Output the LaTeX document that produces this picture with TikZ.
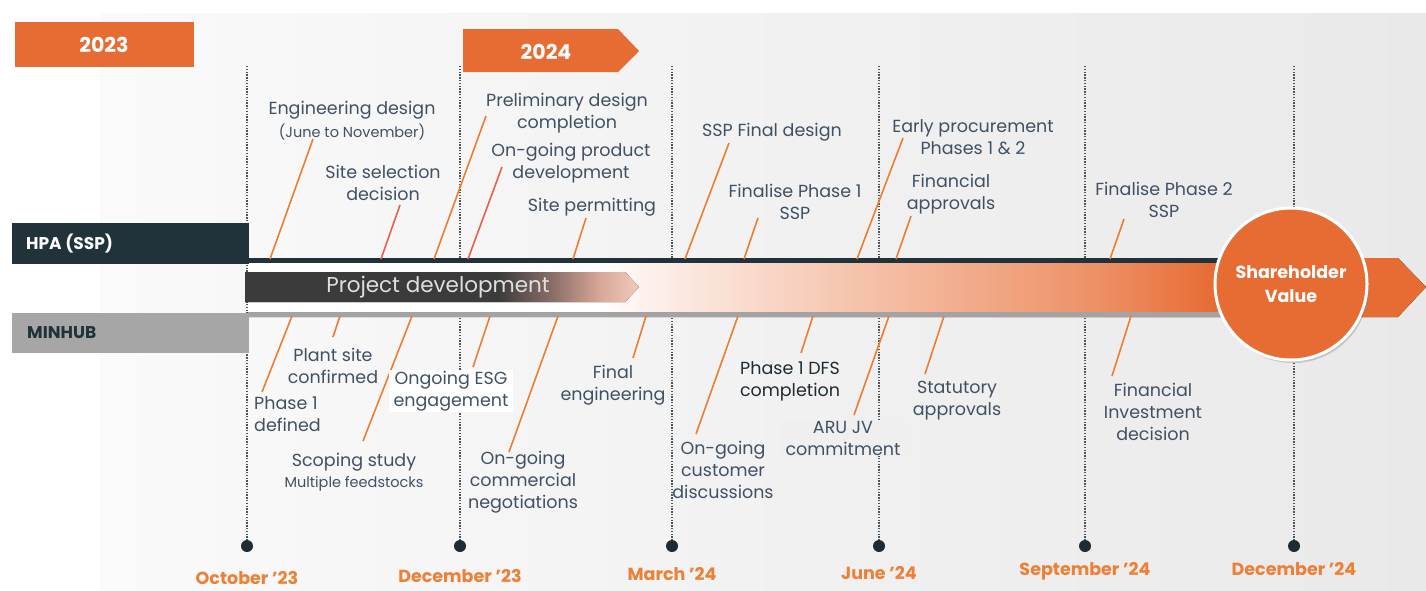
\documentclass[tikz,border=0pt]{standalone}
\usepackage{fontspec}
\setmainfont{Poppins}
\usetikzlibrary{calc}
\usetikzlibrary{positioning}
\usetikzlibrary{shadows}
\definecolor{MainOrange}{HTML}{E76C33}
\definecolor{LeadOrange}{HTML}{EE7D31}
\definecolor{LeadRed}{HTML}{E8604C}
\definecolor{DateOrange}{HTML}{EE7F36}
\definecolor{DarkSlate}{HTML}{22323A}
\definecolor{BarGray}{HTML}{A6A6A6}
\definecolor{LineGray}{HTML}{A3A3A3}
\definecolor{LabelText}{HTML}{405163}
\definecolor{DarkArrow}{HTML}{3B3B3B}
\definecolor{DotDark}{HTML}{1E2B33}
\definecolor{BgLeft}{HTML}{FAFAFA}
\definecolor{BgRight}{HTML}{E9E9E9}
\definecolor{BoxGray}{HTML}{EFEFEF}
\definecolor{DevMid}{HTML}{8A6E68}
\definecolor{DevPink}{HTML}{D8A797}
\definecolor{DevPale}{HTML}{F2CBBD}
\pgfdeclarehorizontalshading{bandshade}{100bp}{color(0bp)=(white); color(25bp)=(white);
  color(40bp)=(white); color(42bp)=(MainOrange!10!white); color(50bp)=(MainOrange!38!white);
  color(61bp)=(MainOrange!75!white); color(66bp)=(MainOrange); color(100bp)=(MainOrange)}
\pgfdeclarehorizontalshading{devshade}{100bp}{color(0bp)=(DarkArrow); color(57bp)=(DarkArrow);
  color(64bp)=(DevMid); color(70bp)=(DevPink); color(75bp)=(DevPale); color(100bp)=(DevPale)}

\begin{document}
\begin{tikzpicture}[x=1pt, y=-1pt,
  lbl/.style={font=\fontsize{17.5}{22}\selectfont, text=LabelText, align=center, inner sep=0pt},
  sublbl/.style={font=\fontsize{14.5}{16}\selectfont, text=LabelText, inner sep=0pt},
  datelbl/.style={font=\bfseries\fontsize{17.5}{19}\selectfont, text=DateOrange, inner sep=0pt},
  bartxt/.style={font=\bfseries\fontsize{17}{19}\selectfont, anchor=west, inner sep=0pt},
  yeartxt/.style={font=\bfseries\fontsize{20.5}{22}\selectfont, text=white, inner sep=0pt},
  leader/.style={draw=LeadOrange, line width=1.6pt},
  tickline/.style={draw=DotDark!80, line width=1.4pt, dash pattern=on 1.4pt off 1.4pt},
  tickdot/.style={circle, fill=DotDark, inner sep=0pt, minimum size=12pt}]

  \useasboundingbox (0,0) rectangle (1426,590);
  \fill[white] (0,0) rectangle (1426,590);
  \fill[left color=BgLeft, right color=BgRight] (100,13) rectangle (1426,590);

  % year markers
  \fill[MainOrange] (15,22) rectangle (194,67);
  \node[yeartxt] (y2023) at (104,45) {2023};
  \fill[MainOrange] (463,29) -- (618,29) -- (639,51) -- (618,72) -- (463,72) -- cycle;
  \node[yeartxt] (y2024) at (546,52) {2024};

  % month ticks
  \foreach \n/\x/\d/\dy in {oct/247/October ’23/578, dec/460/December ’23/576,
    mar/672/March ’24/574, jun/879/June ’24/573, sep/1085/September ’24/571,
    decb/1294/December ’24/569}{%
    \coordinate (top-\n) at (\x,66);
    \node[tickdot] (dot-\n) at (\x,546) {};
    \draw[tickline] (top-\n) -- (dot-\n);
    \node[datelbl] (date-\n) at (\x,\dy) {\d};
  }

  % streams
  \fill[shading=bandshade] (248,258) -- (1398,258) -- (1426,287) -- (1398,317) -- (248,317) -- cycle;
  \fill[DarkSlate] (248,258) rectangle (1260,263);
  \fill[LineGray] (248,312) rectangle (1260,317);
  \fill[DarkSlate] (12,223) rectangle (249,264);
  \node[bartxt, text=white] (hpa) at (26,244) {HPA (SSP)};
  \fill[BarGray] (12,313) rectangle (249,353);
  \node[bartxt, text=DarkSlate] (minhub) at (27,333) {MINHUB};
  \fill[shading=devshade] (245,272) -- (625,272) -- (639,287) -- (625,302) -- (245,302) -- cycle;
  \node[font=\fontsize{21.5}{24}\selectfont, text=gray!25, inner sep=0pt] (dev) at (438,287) {Project development};

  % leaders above
  \foreach \n/\xa/\xb/\yb in {eng/270/313/139, pre/434/486/116, perm/573/586/218,
    ssp/685/729/143, finA/744/758/218, proc/857/903/138, fapp/896/911/216, finB/1110/1124/219}{%
    \coordinate (\n-a) at (\xa,259);
    \coordinate (\n-b) at (\xb,\yb);
    \draw[leader] (\n-a) -- (\n-b);
  }
  \foreach \n/\xa/\xb/\yb in {sel/381/400/205, prod/468/502/167}{%
    \coordinate (\n-a) at (\xa,259);
    \coordinate (\n-b) at (\xb,\yb);
    \draw[leader, draw=LeadRed] (\n-a) -- (\n-b);
  }
  % leaders below
  \foreach \n/\xa/\xb/\yb in {plant/340/333/337, phA/292/262/392, scope/412/363/441,
    esg/490/473/367, comm/558/509/452, feng/646/633/358, cust/738/696/434,
    dfs/813/801/353, aru/889/854/415, stat/944/925/374, fid/1131/1112/376}{%
    \coordinate (\n-a) at (\xa,316);
    \coordinate (\n-b) at (\xb,\yb);
    \draw[leader] (\n-a) -- (\n-b);
  }

  \node[circle, fill=MainOrange, draw=white, line width=3pt, minimum size=152pt,
    drop shadow={opacity=0.35, shadow xshift=2pt, shadow yshift=-3pt},
    font=\bfseries\fontsize{17.5}{24}\selectfont, text=white, align=center] (share) at (1291,284) {Shareholder\\Value};

  % HPA labels
  \node[lbl] (eng) at (352,110) {Engineering design};
  \node[sublbl, below=5pt of eng] (eng-sub) {(June to November)};
  \node[lbl] (sel) at (383,183) {Site selection\\decision};
  \node[lbl] (pre) at (567,113) {Preliminary design\\completion};
  \node[lbl] (prod) at (571,163) {On-going product\\development};
  \node[lbl] (perm) at (592,207) {Site permitting};
  \node[lbl] (ssp) at (772,132) {SSP Final design};
  \node[lbl] (finA) at (795,202) {Finalise Phase 1\\SSP};
  \node[lbl] (proc) at (973,137) {Early procurement\\Phases 1 \& 2};
  \node[lbl] (fapp) at (951,194) {Financial\\approvals};
  \node[lbl] (finB) at (1164,200) {Finalise Phase 2\\SSP};

  % MINHUB labels
  \node[lbl] (plant) at (333,366) {Plant site\\confirmed};
  \node[lbl, anchor=west, align=left] (phA) at (254,414) {Phase 1\\defined};
  \node[lbl] (scope) at (354,462) {Scoping study};
  \node[sublbl, below=5pt of scope] (scope-sub) {Multiple feedstocks};
  \node[lbl, fill=white, inner xsep=5pt, inner ysep=1pt] (esg) at (451,391) {Ongoing ESG\\engagement};
  \node[lbl] (comm) at (523,482) {On-going\\commercial\\negotiations};
  \node[lbl] (feng) at (613,385) {Final\\engineering};
  \node[lbl] (cust) at (723,470) {On-going\\customer\\discussions};
  \node[lbl, text=DotDark] (dfs) at (790,381) {Phase 1 DFS\\completion};
  \node[lbl, fill=BoxGray, inner xsep=5pt, inner ysep=1pt] (aru) at (843,438) {ARU JV\\commitment};
  \node[lbl] (stat) at (957,401) {Statutory\\approvals};
  \node[lbl] (fid) at (1153,412) {Financial\\Investment\\decision};
\end{tikzpicture}
\end{document}
